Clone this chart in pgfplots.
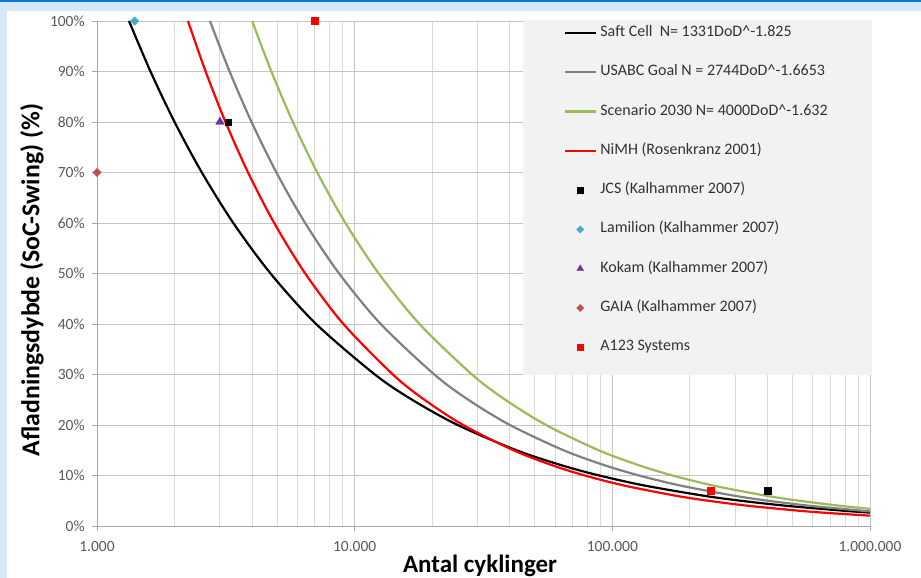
\documentclass[border=0pt]{standalone}
\usepackage{pgfplots}
\pgfplotsset{compat=1.18}
\usepackage{fontspec}
\setmainfont{Carlito}
\definecolor{frameblue}{HTML}{D5E9FB}
\definecolor{barblue}{HTML}{0A78D8}
\definecolor{legbg}{HTML}{F2F2F2}
\definecolor{gridmaj}{HTML}{C4C4C4}
\definecolor{gridmin}{HTML}{D9D9D9}
\definecolor{axisgray}{HTML}{A6A6A6}
\definecolor{ticktext}{HTML}{595959}
\definecolor{legtext}{HTML}{333333}
\definecolor{usabc}{HTML}{808080}
\definecolor{scen}{HTML}{9BBB59}
\definecolor{lamilion}{HTML}{4BACC6}
\definecolor{kokam}{HTML}{7030A0}
\definecolor{gaia}{HTML}{C0504D}
\begin{document}
\begin{tikzpicture}
\useasboundingbox (-97pt,-52pt) rectangle (824pt,526pt);
\fill[frameblue] (-97pt,-52pt) rectangle (824pt,526pt);
\fill[white] (-90pt,-52pt) rectangle (824pt,515pt);
\fill[barblue] (-97pt,523.5pt) rectangle (824pt,526pt);
\begin{axis}[
  at={(0pt,0pt)}, anchor=south west,
  scale only axis, width=773pt, height=505pt,
  xmode=log, xmin=1000, xmax=1000000, ymin=0, ymax=100,
  axis x line=bottom, axis y line=left,
  axis line style={-, draw=axisgray, line width=0.9pt},
  tick align=outside, major tick length=5pt, minor tick length=0pt,
  tick style={axisgray, line width=0.9pt},
  grid=both,
  major grid style={gridmaj, line width=0.9pt},
  minor grid style={gridmin, line width=0.9pt},
  xtick={1000,10000,100000,1000000},
  xticklabels={1.000,10.000,100.000,1.000.000},
  minor xtick={2000,3000,4000,5000,6000,7000,8000,9000,20000,30000,40000,50000,60000,70000,80000,90000,200000,300000,400000,500000,600000,700000,800000,900000},
  ytick={0,10,20,30,40,50,60,70,80,90,100},
  yticklabels={0\%,10\%,20\%,30\%,40\%,50\%,60\%,70\%,80\%,90\%,100\%},
  tick label style={font=\fontsize{15.5}{18}\selectfont, text=ticktext},
  yticklabel style={xshift=-3.8pt},
  xticklabel style={yshift=-6.5pt},
  clip=false,
  xlabel={Antal cyklinger},
  ylabel={Afladningsdybde (SoC-Swing) (\%)},
  xlabel style={at={(axis description cs:0.4955,-0.093)}, anchor=base, font=\bfseries\fontsize{25}{30}\selectfont},
  ylabel style={at={(axis description cs:-0.0841,0.487)}, anchor=center, font=\bfseries\fontsize{25.8}{30}\selectfont},
  legend cell align=left,
  legend style={at={(0.6041,0.9936)}, anchor=north west, draw=none, fill=none,
    inner sep=0pt, font=\fontsize{16}{19}\selectfont, text=legtext,
    row sep=22.3pt,
    nodes={inner xsep=3pt, inner ysep=1pt, text height=11pt, text depth=4pt}},
]
\fill[legbg] (axis description cs:0.5511,0.299) rectangle (axis description cs:1.0026,1.002);

\addplot[black, line width=2.2pt, smooth,
  legend image code/.code={\draw[black, line width=2.2pt] (0pt,0pt) -- (31pt,0pt);}]
  coordinates {(1331,100) (1613,90) (2000,80) (2552,70) (3381,60) (4716,50) (7086,40) (11980,30) (16710,25) (25110,20) (42450,15) (63790,12) (88950,10) (133700,8) (226000,6) (315200,5) (473700,4) (800600,3) (1000000,2.655)};
\addlegendentry{Saft Cell\ \ N= 1331DoD\^{}-1.825}

\addplot[usabc, line width=2.2pt, smooth,
  legend image code/.code={\draw[usabc, line width=2.2pt] (0pt,0pt) -- (31pt,0pt);}]
  coordinates {(2744,100) (3270,90) (3979,80) (4970,70) (6424,60) (8703,50) (12620,40) (20380,30) (27600,25) (40030,20) (64640,15) (93700,12) (127000,10) (184100,8) (297200,6) (402800,5) (583900,4) (942800,3) (1000000,2.896)};
\addlegendentry{USABC Goal N = 2744DoD\^{}-1.6653}

\addplot[scen, line width=2.2pt, smooth,
  legend image code/.code={\draw[scen, line width=2.2pt] (0pt,0pt) -- (31pt,0pt);}]
  coordinates {(4000,100) (4750,90) (5757,80) (7159,70) (9207,60) (12400,50) (17850,40) (28540,30) (38430,25) (55300,20) (88450,15) (127300,12) (171400,10) (246700,8) (394600,6) (531300,5) (764800,4) (1000000,3.394)};
\addlegendentry{Scenario 2030 N= 4000DoD\^{}-1.632}

\addplot[red, line width=2.2pt, smooth,
  legend image code/.code={\draw[red, line width=2.2pt] (0pt,0pt) -- (31pt,0pt);}]
  coordinates {(2254,100) (2640,90) (3153,80) (3858,70) (4872,60) (6430,50) (9042,40) (14070,30) (18650,25) (26360,20) (41310,15) (58640,12) (78160,10) (111300,8) (176000,6) (235600,5) (337400,4) (537200,3) (722300,2.5) (1000000,2.05)};
\addlegendentry{NiMH (Rosenkranz 2001)}

\addplot[only marks, mark=square*, mark size=3.2pt, black, mark options={line width=0.3pt},
  legend image code/.code={\path (0pt,0pt) (31pt,0pt); \draw[black, fill=black, line width=0.3pt] plot[mark=square*, mark size=2.8pt] coordinates {(15pt,0pt)};}]
  coordinates {(3220,80) (400000,7)};
\addlegendentry{JCS (Kalhammer 2007)}

\addplot[only marks, mark=square*, mark size=3pt, lamilion, mark options={rotate=45, line width=0.3pt},
  legend image code/.code={\path (0pt,0pt) (31pt,0pt); \draw[lamilion, fill=lamilion, line width=0.3pt] plot[mark=square*, mark size=2.6pt, mark options={rotate=45}] coordinates {(15pt,0pt)};}]
  coordinates {(1400,100)};
\addlegendentry{Lamilion (Kalhammer 2007)}

\addplot[only marks, mark=triangle*, mark size=5pt, kokam, mark options={line width=0.3pt},
  legend image code/.code={\path (0pt,0pt) (31pt,0pt); \draw[kokam, fill=kokam, line width=0.3pt] plot[mark=triangle*, mark size=4pt] coordinates {(15pt,0pt)};}]
  coordinates {(3000,80)};
\addlegendentry{Kokam (Kalhammer 2007)}

\addplot[only marks, mark=square*, mark size=3pt, gaia, mark options={rotate=45, line width=0.3pt},
  legend image code/.code={\path (0pt,0pt) (31pt,0pt); \draw[gaia, fill=gaia, line width=0.3pt] plot[mark=square*, mark size=2.6pt, mark options={rotate=45}] coordinates {(15pt,0pt)};}]
  coordinates {(1000,70)};
\addlegendentry{GAIA (Kalhammer 2007)}

\addplot[only marks, mark=square*, mark size=3.4pt, red, mark options={line width=0.3pt},
  legend image code/.code={\path (0pt,0pt) (31pt,0pt); \draw[red, fill=red, line width=0.3pt] plot[mark=square*, mark size=2.8pt] coordinates {(15pt,0pt)};}]
  coordinates {(7000,100) (241000,7)};
\addlegendentry{A123 Systems}
\end{axis}
\end{tikzpicture}
\end{document}
